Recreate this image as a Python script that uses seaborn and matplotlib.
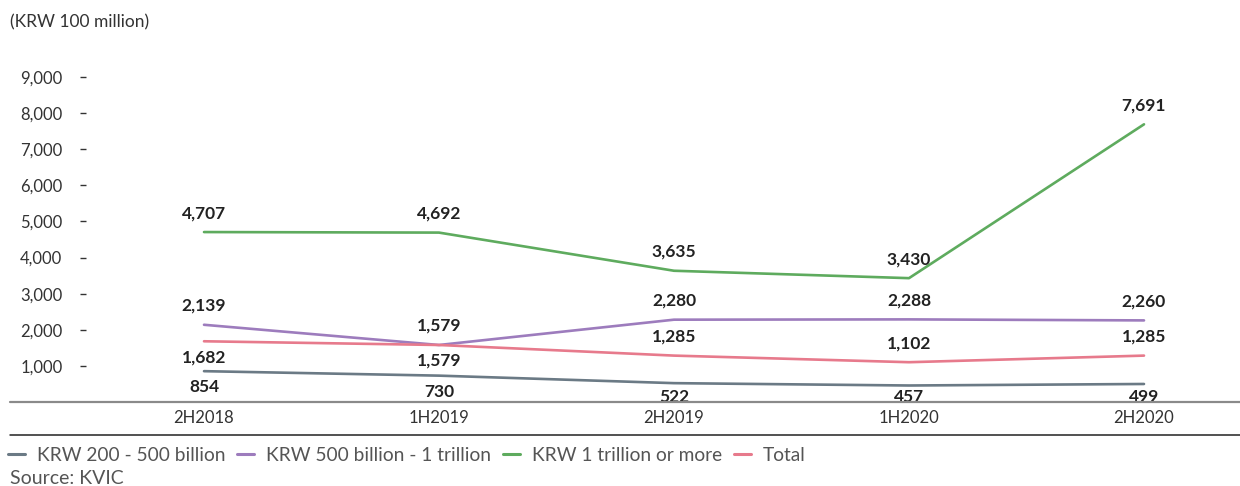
import matplotlib
matplotlib.use("Agg")
import matplotlib.pyplot as plt
from matplotlib.lines import Line2D
import seaborn as sns
import pandas as pd

# Half-year periods and investment amounts (KRW 100 million)
periods = ["2H2018", "1H2019", "2H2019", "1H2020", "2H2020"]
krw_200_500 = [854, 730, 522, 457, 499]
krw_500_1t = [2139, 1579, 2280, 2288, 2260]
krw_1t_plus = [4707, 4692, 3635, 3430, 7691]
total = [1682, 1579, 1285, 1102, 1285]
series_names = ["KRW 200 - 500 billion", "KRW 500 billion - 1 trillion",
                "KRW 1 trillion or more", "Total"]
y_ticks = [1000, 2000, 3000, 4000, 5000, 6000, 7000, 8000, 9000]

colors = ["#6b7a85", "#9d7cbd", "#5eab5e", "#e77a8c"]
# label side for each point: +1 above, -1 below
label_side = [
    [-1, -1, -1, -1, -1],
    [1, 1, 1, 1, 1],
    [1, 1, 1, 1, 1],
    [-1, -1, 1, 1, 1],
]

all_values = [krw_200_500, krw_500_1t, krw_1t_plus, total]
rows = []
for name, vals in zip(series_names, all_values):
    for i, (p, v) in enumerate(zip(periods, vals)):
        rows.append({"pos": i, "period": p, "series": name, "value": v})
df = pd.DataFrame(rows)

sns.set_theme(style="white")
plt.rcParams["font.family"] = ["Lato", "DejaVu Sans"]

W, H = 1240, 486
fig = plt.figure(figsize=(W / 100, H / 100), dpi=100)
ax_left, ax_right, ax_bottom, ax_top = 86, 1240, 402, 59
ax = fig.add_axes([ax_left / W, 1 - ax_bottom / H,
                   (ax_right - ax_left) / W, (ax_bottom - ax_top) / H])

sns.lineplot(data=df, x="pos", y="value", hue="series", hue_order=series_names,
             palette=colors, linewidth=1.9, ax=ax, legend=False)

ymax = 9500
px_per_value = (ax_bottom - ax_top) / ymax

# point labels; labels below a line stay just above the baseline
for vals, sides in zip(all_values, label_side):
    for i, (v, s) in enumerate(zip(vals, sides)):
        if s > 0:
            off_px = 19
        else:
            off_px = -min(16, v * px_per_value - 5)
        ax.annotate(f"{v:,}", (i, v), xytext=(0, off_px * 0.72),
                    textcoords="offset points", ha="center", va="center",
                    fontsize=12.5, fontweight="bold", color="#222222")

px_per_unit = 235
ax.set_xlim(0 - (204 - ax_left) / px_per_unit, 4 + (ax_right - 1144) / px_per_unit)
ax.set_ylim(0, ymax)
ax.set_xticks(range(len(periods)))
ax.set_xticklabels(periods)
ax.set_yticks(y_ticks)
ax.set_yticklabels([f"{t:,}" for t in y_ticks])
ax.set_xlabel("")
ax.set_ylabel("")
for sp in ax.spines.values():
    sp.set_visible(False)
ax.tick_params(axis="x", length=0, pad=6, labelsize=12, labelcolor="#333333")
ax.tick_params(axis="y", direction="out", length=4, width=1, color="#333333",
               pad=13, labelsize=12, labelcolor="#333333", left=True)

# baseline and separator rules
fig.add_artist(Line2D([10 / W, 1], [1 - 402 / H, 1 - 402 / H], color="#8a8a8a",
                      linewidth=1.6))
fig.add_artist(Line2D([10 / W, 1], [1 - 435 / H, 1 - 435 / H], color="#222222",
                      linewidth=1.1))

fig.text(10 / W, 1 - 22 / H, "(KRW 100 million)", ha="left", va="center",
         fontsize=12.5, color="#333333")

handles = [Line2D([0], [0], color=c, linewidth=2.2) for c in colors]
fig.legend(handles, series_names, loc="center left",
           bbox_to_anchor=(8 / W, 1 - 455 / H), ncol=4, frameon=False,
           handlelength=0.9, handletextpad=0.6, columnspacing=0.62,
           fontsize=13.8, labelcolor="#555555", borderaxespad=0, borderpad=0)

fig.text(10 / W, 1 - 478 / H, "Source: KVIC", ha="left", va="center",
         fontsize=14, color="#555555")

fig.savefig("out.png", dpi=100)
